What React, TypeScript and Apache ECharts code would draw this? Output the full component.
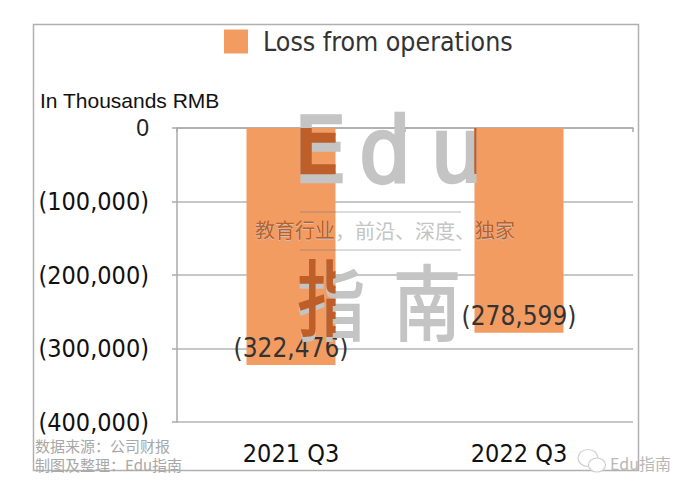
import React, { useEffect, useRef } from 'react';
import * as echarts from 'echarts';

const categories = ['2021 Q3', '2022 Q3'];
const lossValues = [-322476, -278599];
const yMin = -400000;
const yMax = 0;
const yStep = 100000;
const seriesName = 'Loss from operations';
const unitLabel = 'In Thousands RMB';
const sourceLines = ['数据来源：公司财报', '制图及整理：Edu指南'];
const watermarkLetters = ['E', 'd', 'u'];
const watermarkTagline = '教育行业，前沿、深度、独家';
const watermarkChars = ['指', '南'];
const brandText = 'Edu指南';

const W = 696;
const H = 494;
const COND = "'DejaVu Sans Condensed', 'DejaVu Sans', sans-serif";
const CJK = "'Noto Sans CJK SC', sans-serif";
const BAR = '#F39C62';
const BAR_W = 89;
const WM = '#c4c4c4';
const WM_DARK = '#BE5F29';

function fmtNum(v: number): string {
  if (v === 0) return '0';
  return '(' + Math.abs(v).toLocaleString('en-US') + ')';
}

type WmItem = { text: string; x: number; y: number; font: string; scaleX: number; lw: number };

const letterX = [320, 385, 456];
const charX = [331, 427];
const wmItems: WmItem[] = [
  ...watermarkLetters.map((t, i) => ({
    text: t,
    x: letterX[i],
    y: 150,
    font: "90px 'DejaVu Sans Mono', monospace",
    scaleX: 1,
    lw: 2.5,
  })),
  { text: watermarkTagline, x: 385, y: 230, font: '20px ' + CJK, scaleX: 1, lw: 0 },
  ...watermarkChars.map((t, i) => ({
    text: t,
    x: charX[i],
    y: 298,
    font: '82px ' + CJK,
    scaleX: 0.82,
    lw: 2,
  })),
];
const wmLines = [
  [300, 212, 461, 212],
  [300, 250, 461, 250],
];

export default function App() {
  const ref = useRef<HTMLDivElement>(null);
  useEffect(() => {
    if (!ref.current) return;
    const chart = echarts.init(ref.current, undefined, { renderer: 'svg' });
    const graphic: any[] = [
      {
        type: 'rect',
        shape: { x: 33.5, y: 24.5, width: 605, height: 446 },
        style: { fill: 'none', stroke: '#b0b0b0', lineWidth: 1.5 },
        z: 1,
        silent: true,
      },
      {
        type: 'text',
        x: 40,
        y: 100,
        style: {
          text: unitLabel,
          font: "21px 'Liberation Sans', Arial, sans-serif",
          fill: '#111',
          align: 'left',
          verticalAlign: 'middle',
        },
        z: 10,
      },
      ...sourceLines.map((t, i) => ({
        type: 'text',
        x: 35,
        y: 445 + i * 19,
        style: {
          text: t,
          font: '15px ' + CJK,
          fill: '#a8a8a8',
          align: 'left',
          verticalAlign: 'middle',
        },
        z: 10,
      })),
      ...wmItems.map((it) => ({
        type: 'text',
        x: it.x,
        y: it.y,
        scaleX: it.scaleX,
        style: {
          text: it.text,
          font: it.font,
          fill: WM,
          stroke: it.lw ? WM : undefined,
          lineWidth: it.lw,
          align: 'center',
          verticalAlign: 'middle',
        },
        z: 100,
        silent: true,
      })),
      ...wmLines.map((l) => ({
        type: 'line',
        shape: { x1: l[0], y1: l[1], x2: l[2], y2: l[3] },
        style: { stroke: '#d0d0d0', lineWidth: 1.5 },
        z: 100,
        silent: true,
      })),
      {
        type: 'ellipse',
        shape: { cx: 588, cy: 458, rx: 10, ry: 8.5 },
        style: { fill: '#fff', stroke: '#cfcfcf', lineWidth: 1.2 },
        z: 10,
      },
      {
        type: 'ellipse',
        shape: { cx: 597, cy: 465, rx: 8.5, ry: 7 },
        style: { fill: '#fff', stroke: '#cfcfcf', lineWidth: 1.2 },
        z: 11,
      },
      {
        type: 'text',
        x: 610,
        y: 463,
        style: {
          text: brandText,
          font: '16px ' + CJK,
          fill: '#b8b8b8',
          align: 'left',
          verticalAlign: 'middle',
        },
        z: 10,
      },
    ];

    chart.setOption({
      animation: false,
      backgroundColor: '#fff',
      legend: {
        left: 224,
        top: 28,
        padding: 0,
        itemWidth: 24,
        itemHeight: 24,
        icon: 'rect',
        data: [seriesName],
        textStyle: {
          fontSize: 26.5,
          fontFamily: COND,
          color: '#333',
          padding: [0, 0, 0, 10],
        },
      },
      grid: { left: 177, right: 63, top: 128, bottom: 72 },
      xAxis: {
        type: 'category',
        data: categories,
        axisLine: { lineStyle: { color: '#aaa', width: 1.5 } },
        axisTick: { show: true, length: 4, lineStyle: { color: '#aaa', width: 1.5 } },
        axisLabel: { fontSize: 25, fontFamily: COND, color: '#111', margin: 19 },
      },
      yAxis: {
        type: 'value',
        min: yMin,
        max: yMax,
        interval: yStep,
        axisLine: { show: true, lineStyle: { color: '#aaa', width: 1.5 } },
        axisTick: { show: true, length: 5, lineStyle: { color: '#aaa', width: 1.5 } },
        splitLine: { lineStyle: { color: '#b4b4b4', width: 1.5 } },
        axisLabel: {
          margin: 28,
          fontSize: 25,
          fontFamily: COND,
          color: '#111',
          formatter: (v: number) => (v === 0 ? '{z|0}' : fmtNum(v)),
          rich: {
            z: {
              fontSize: 23,
              fontFamily: "'Liberation Sans', Arial, sans-serif",
              color: '#222',
            },
          },
        },
      },
      series: [
        {
          name: seriesName,
          type: 'bar',
          data: lossValues,
          barWidth: BAR_W,
          itemStyle: { color: BAR },
          label: {
            show: true,
            position: 'insideBottom',
            distance: 4,
            fontSize: 26,
            fontFamily: COND,
            color: '#333',
            formatter: (p: any) => fmtNum(p.value),
          },
          z: 2,
        },
      ],
      graphic,
    });

    // Watermark tint where it lies over the bars (multiply-like look of the original)
    try {
      const rects = lossValues.map((v, i) => {
        const p0 = chart.convertToPixel({ seriesIndex: 0 } as any, [i, 0]) as number[];
        const p1 = chart.convertToPixel({ seriesIndex: 0 } as any, [i, v]) as number[];
        return { x: p0[0] - BAR_W / 2, y: Math.min(p0[1], p1[1]), w: BAR_W, h: Math.abs(p1[1] - p0[1]) };
      });
      const cv = document.createElement('canvas');
      cv.width = W;
      cv.height = H;
      const ctx = cv.getContext('2d');
      if (ctx) {
        ctx.beginPath();
        rects.forEach((r) => ctx.rect(r.x, r.y, r.w, r.h));
        ctx.clip();
        ctx.fillStyle = WM_DARK;
        ctx.strokeStyle = WM_DARK;
        wmItems.forEach((it) => {
          ctx.save();
          ctx.translate(it.x, it.y);
          ctx.scale(it.scaleX, 1);
          ctx.font = it.font;
          ctx.textAlign = 'center';
          ctx.textBaseline = 'middle';
          ctx.fillText(it.text, 0, 0);
          if (it.lw) {
            ctx.lineWidth = it.lw;
            ctx.strokeText(it.text, 0, 0);
          }
          ctx.restore();
        });
        ctx.lineWidth = 1.5;
        ctx.strokeStyle = '#d08050';
        wmLines.forEach((l) => {
          ctx.beginPath();
          ctx.moveTo(l[0], l[1]);
          ctx.lineTo(l[2], l[3]);
          ctx.stroke();
        });
        chart.setOption({
          graphic: [
            {
              id: 'wmOverlay',
              type: 'image',
              x: 0,
              y: 0,
              style: { image: cv.toDataURL(), x: 0, y: 0, width: W, height: H },
              z: 101,
              silent: true,
            },
          ],
        });
      }
    } catch (e) {
      // ignore
    }
    return () => chart.dispose();
  }, []);
  return (
    <div
      ref={ref}
      style={{ position: 'fixed', left: 0, top: 0, width: W, height: H }}
    />
  );
}
